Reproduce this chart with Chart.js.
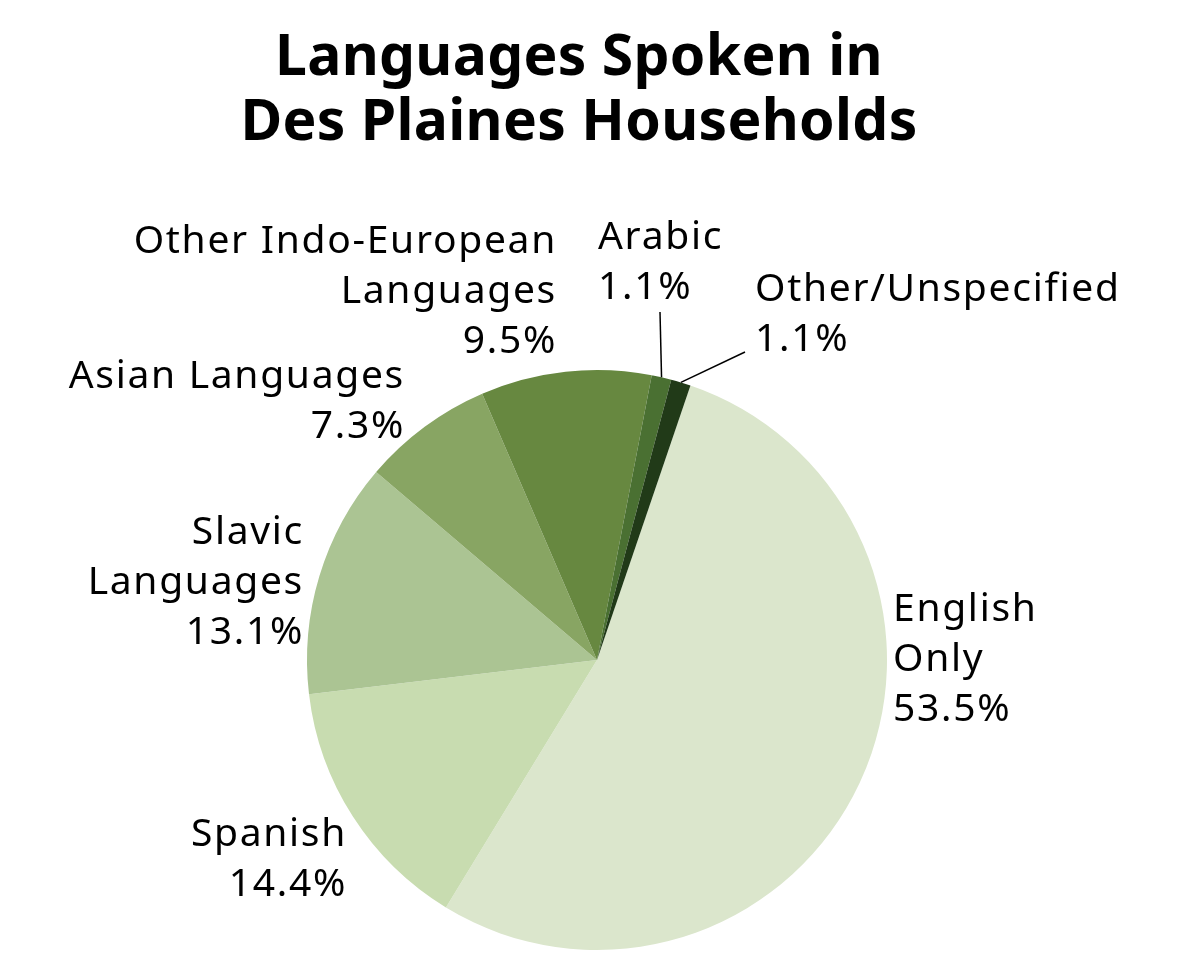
<!DOCTYPE html>
<html>
<head>
<meta charset="utf-8">
<title>Languages Spoken in Des Plaines Households</title>
<script src="https://cdn.jsdelivr.net/npm/chart.js"></script>
<style>
    html, body { margin: 0; padding: 0; background: #ffffff; }
    #wrap { width: 1178px; height: 980px; position: relative; }
</style>
</head>
<body>
<div id="wrap"><canvas id="langChart"></canvas></div>
<script>
// Chart data
const titleLines = ['Languages Spoken in', 'Des Plaines Households'];
const languages = ['English Only', 'Spanish', 'Slavic Languages', 'Asian Languages',
    'Other Indo-European Languages', 'Arabic', 'Other/Unspecified'];
const shares = [53.5, 14.4, 13.1, 7.3, 9.5, 1.1, 1.1];
const labelLines = [
    ['English', 'Only'],
    ['Spanish'],
    ['Slavic', 'Languages'],
    ['Asian Languages'],
    ['Other Indo-European', 'Languages'],
    ['Arabic'],
    ['Other/Unspecified']
];
const sliceColors = ['#dbe6cc', '#c8dcb0', '#abc493', '#88a563', '#678840', '#4a7032', '#213a18'];

// Label placement relative to pie centre (px at radius 290)
const labelLayout = [
    { dx: 296, dy: -50, align: 'left' },
    { dx: -250, dy: 175, align: 'right' },
    { dx: -293, dy: -127, align: 'right' },
    { dx: -192, dy: -283, align: 'right' },
    { dx: -40, dy: -418, align: 'right' },
    { dx: 1, dy: -422, align: 'left', leader: [63, -348] },
    { dx: 158, dy: -370, align: 'left', leader: [148, -308] }
];

const FONT = "'Noto Sans', sans-serif";
const LINE_H = 50;

const titlePlugin = {
    id: 'customTitle',
    afterDraw(chart) {
        const ctx = chart.ctx;
        ctx.save();
        ctx.fillStyle = '#000';
        ctx.font = `bold 57px ${FONT}`;
        ctx.letterSpacing = '0.3px';
        ctx.textAlign = 'center';
        ctx.textBaseline = 'alphabetic';
        titleLines.forEach((line, i) => ctx.fillText(line, 579, 75 + i * 65));
        ctx.restore();
    }
};

const sliceLabels = {
    id: 'sliceLabels',
    afterDatasetsDraw(chart) {
        const ctx = chart.ctx;
        const meta = chart.getDatasetMeta(0);
        ctx.save();
        meta.data.forEach((arc, i) => {
            const { x, y, outerRadius, startAngle, endAngle } = arc.getProps(['x', 'y', 'outerRadius', 'startAngle', 'endAngle'], true);
            const k = outerRadius / 290;
            const lay = labelLayout[i];
            const lines = [...labelLines[i], shares[i].toFixed(1) + '%'];

            if (lay.leader) {
                const mid = (startAngle + endAngle) / 2;
                ctx.strokeStyle = '#000';
                ctx.lineWidth = 1.5;
                ctx.beginPath();
                ctx.moveTo(x + Math.cos(mid) * outerRadius, y + Math.sin(mid) * outerRadius);
                ctx.lineTo(x + lay.leader[0] * k, y + lay.leader[1] * k);
                ctx.stroke();
            }

            ctx.fillStyle = '#000';
            ctx.font = `39px ${FONT}`;
            ctx.letterSpacing = '1.7px';
            ctx.textAlign = lay.align;
            ctx.textBaseline = 'middle';
            lines.forEach((line, j) => {
                ctx.fillText(line, x + lay.dx * k, y + lay.dy * k + j * LINE_H);
            });
        });
        ctx.restore();
    }
};

const ctx = document.getElementById('langChart').getContext('2d');
new Chart(ctx, {
    type: 'pie',
    data: {
        labels: languages,
        datasets: [{
            data: shares,
            backgroundColor: sliceColors,
            borderWidth: 0
        }]
    },
    options: {
        responsive: true,
        maintainAspectRatio: false,
        animation: false,
        rotation: 18.8,
        layout: { padding: { left: 307, right: 291, top: 370, bottom: 30 } },
        plugins: {
            legend: { display: false },
            title: { display: false },
            tooltip: { enabled: false }
        }
    },
    plugins: [titlePlugin, sliceLabels]
});
</script>
</body>
</html>
